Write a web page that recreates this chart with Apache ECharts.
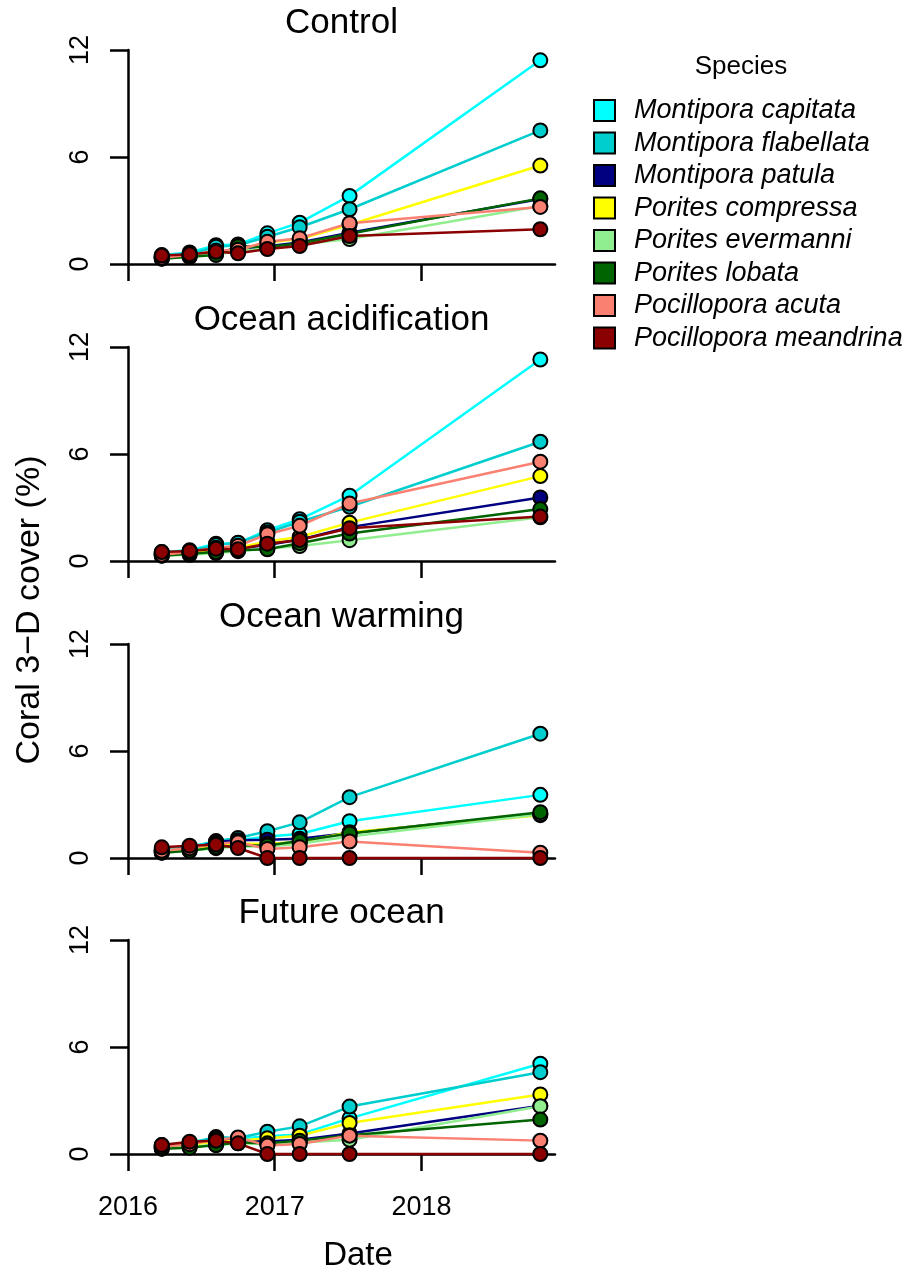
<!DOCTYPE html>
<html>
<head>
<meta charset="utf-8">
<script src="https://cdn.jsdelivr.net/npm/echarts@6/dist/echarts.min.js"></script>
<style>
  html, body { margin: 0; padding: 0; background: #fff; }
  #chart { width: 910px; height: 1276px; }
</style>
</head>
<body>
<div id="chart"></div>
<script>
// sampling dates as decimal years
var dates = [2016.23, 2016.42, 2016.60, 2016.75, 2016.95, 2017.17, 2017.51, 2018.81];
var yearTicks = [2016, 2017, 2018];
var coverTicks = [0, 6, 12];

var species = ['Montipora capitata', 'Montipora flabellata', 'Montipora patula', 'Porites compressa',
               'Porites evermanni', 'Porites lobata', 'Pocillopora acuta', 'Pocillopora meandrina'];
var colors = ['#00FFFF', '#00CDCD', '#000080', '#FFFF00', '#90EE90', '#006400', '#FA8072', '#8B0000'];

var treatments = ['Control', 'Ocean acidification', 'Ocean warming', 'Future ocean'];

// coral 3-D cover (%), one row per species (same order as species)
var control = [
    [0.50, 0.65, 1.05, 1.10, 1.72, 2.32, 3.82, 11.42],
    [0.40, 0.55, 0.97, 1.05, 1.53, 2.06, 3.07, 7.49],
    [0.35, 0.45, 0.60, 0.75, 1.00, 1.20, 1.75, 3.65],
    [0.40, 0.50, 0.70, 0.80, 1.20, 1.40, 2.20, 5.52],
    [0.30, 0.40, 0.55, 0.70, 0.90, 1.10, 1.40, 3.25],
    [0.30, 0.40, 0.50, 1.00, 0.95, 1.15, 1.70, 3.68],
    [0.35, 0.50, 0.75, 0.80, 1.25, 1.44, 2.29, 3.20],
    [0.47, 0.54, 0.69, 0.60, 0.84, 1.01, 1.57, 1.95]
];
var acidification = [
    [0.50, 0.60, 0.97, 1.00, 1.73, 2.34, 3.66, 11.30],
    [0.45, 0.55, 0.90, 1.03, 1.60, 2.20, 3.04, 6.69],
    [0.35, 0.45, 0.60, 0.70, 0.90, 1.20, 1.90, 3.56],
    [0.40, 0.50, 0.65, 0.75, 1.10, 1.35, 2.15, 4.76],
    [0.30, 0.35, 0.45, 0.55, 0.70, 0.84, 1.17, 2.45],
    [0.30, 0.40, 0.50, 0.60, 0.66, 1.00, 1.54, 2.91],
    [0.35, 0.50, 0.75, 0.85, 1.50, 1.97, 3.22, 5.57],
    [0.50, 0.56, 0.69, 0.66, 0.97, 1.18, 1.84, 2.49]
];
var warming = [
    [0.50, 0.65, 0.90, 1.00, 1.20, 1.35, 2.06, 3.54],
    [0.45, 0.60, 0.95, 1.12, 1.50, 2.00, 3.41, 6.97],
    [0.35, 0.50, 0.90, 1.00, 1.03, 1.08, 1.40, 2.50],
    [0.40, 0.50, 0.70, 0.80, 0.80, 0.90, 1.45, 2.40],
    [0.30, 0.40, 0.55, 0.65, 0.65, 0.80, 1.20, 2.45],
    [0.30, 0.40, 0.60, 0.70, 0.70, 0.95, 1.38, 2.57],
    [0.40, 0.55, 0.80, 0.88, 0.50, 0.60, 0.92, 0.30],
    [0.60, 0.69, 0.75, 0.56, 0.00, 0.00, 0.00, 0.00]
];
var future = [
    [0.50, 0.65, 0.90, 0.85, 1.00, 1.10, 2.00, 5.06],
    [0.45, 0.60, 0.95, 0.90, 1.25, 1.55, 2.66, 4.59],
    [0.35, 0.50, 0.85, 0.80, 0.70, 0.80, 1.15, 2.70],
    [0.40, 0.50, 0.70, 0.75, 0.88, 1.03, 1.74, 3.34],
    [0.30, 0.40, 0.50, 0.60, 0.55, 0.65, 0.80, 2.68],
    [0.30, 0.35, 0.50, 0.65, 0.60, 0.75, 1.05, 1.93],
    [0.40, 0.55, 0.80, 0.93, 0.47, 0.56, 1.03, 0.75],
    [0.50, 0.69, 0.75, 0.60, 0.00, 0.00, 0.00, 0.00]
];
var panels = [control, acidification, warming, future];

var font = 'Liberation Sans, Arial, sans-serif';
var gridTops = [50, 347, 644, 940];

var chart = echarts.init(document.getElementById('chart'));

var grids = [], xAxes = [], yAxes = [], series = [], graphics = [];
gridTops.forEach(function (top, i) {
    grids.push({ left: 128, top: top, width: 427, height: 214 });
    xAxes.push({
        type: 'value', gridIndex: i, min: 2016, max: 2018.91,
        splitLine: { show: false },
        axisLine: { lineStyle: { color: '#000', width: 2.5 } },
        axisTick: { length: 17, customValues: yearTicks, lineStyle: { color: '#000', width: 2.5 } },
        axisLabel: {
            show: i === 3, customValues: yearTicks, margin: 40,
            fontSize: 27, color: '#000', fontFamily: font,
            formatter: function (v) { return String(v); }
        }
    });
    yAxes.push({
        type: 'value', gridIndex: i, min: 0, max: 12, interval: 6,
        splitLine: { show: false },
        axisLine: { show: true, lineStyle: { color: '#000', width: 2.5 } },
        axisTick: { show: true, length: 18, customValues: coverTicks, lineStyle: { color: '#000', width: 2.5 } },
        axisLabel: {
            rotate: 90, margin: 34, customValues: coverTicks,
            fontSize: 27, color: '#000', fontFamily: font
        }
    });
    graphics.push({
        type: 'text', x: 341.5, y: top - 27,
        style: { text: treatments[i], font: '35px ' + font, fill: '#000',
                 textAlign: 'center', textVerticalAlign: 'middle' }
    });
    panels[i].forEach(function (vals, s) {
        series.push({
            name: species[s],
            type: 'line',
            xAxisIndex: i,
            yAxisIndex: i,
            data: dates.map(function (d, k) { return [d, vals[k]]; }),
            symbol: 'circle',
            symbolSize: 14,
            clip: false,
            lineStyle: { color: colors[s], width: 2.5 },
            itemStyle: { color: colors[s], borderColor: '#000', borderWidth: 2 },
            emphasis: { disabled: true }
        });
    });
});

graphics.push({
    type: 'text', x: 30, y: 610, rotation: Math.PI / 2,
    style: { text: 'Coral 3\u2212D cover (%)', font: '34px ' + font, fill: '#000',
             textAlign: 'center', textVerticalAlign: 'middle' }
});
graphics.push({
    type: 'text', x: 358, y: 1256,
    style: { text: 'Date', font: '33px ' + font, fill: '#000',
             textAlign: 'center', textVerticalAlign: 'middle' }
});
graphics.push({
    type: 'text', x: 741, y: 67,
    style: { text: 'Species', font: '26px ' + font, fill: '#000',
             textAlign: 'center', textVerticalAlign: 'middle' }
});

var option = {
    animation: false,
    backgroundColor: '#fff',
    grid: grids,
    xAxis: xAxes,
    yAxis: yAxes,
    legend: {
        data: species,
        orient: 'vertical',
        left: 588,
        top: 92,
        icon: 'rect',
        itemWidth: 21,
        itemHeight: 21,
        itemGap: 5.5,
        itemStyle: { borderColor: '#000', borderWidth: 2 },
        selectedMode: false,
        textStyle: { fontSize: 27, lineHeight: 21, fontStyle: 'italic', color: '#000',
                     fontFamily: font, padding: [0, 0, 0, 14] }
    },
    graphic: graphics,
    series: series
};

option && chart.setOption(option);
</script>
</body>
</html>
